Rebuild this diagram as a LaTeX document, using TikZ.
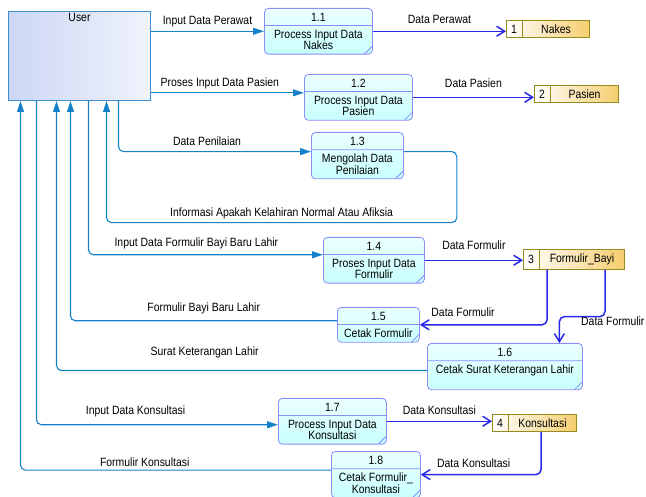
\documentclass[tikz,border=0pt]{standalone}
\usepackage{fontspec}
\setmainfont{Liberation Sans}[FakeStretch=0.87]
\usetikzlibrary{arrows.meta,calc,shapes.multipart}

\definecolor{uflowc}{RGB}{20,130,200}
\definecolor{sflowc}{RGB}{40,40,235}
\definecolor{procline}{RGB}{140,140,250}
\definecolor{procfill}{RGB}{200,255,255}
\definecolor{storeline}{RGB}{150,140,30}
\definecolor{storefill}{RGB}{245,205,110}
\definecolor{userfill}{RGB}{205,215,245}
\definecolor{userline}{RGB}{60,140,210}

\begin{document}
\begin{tikzpicture}[x=1pt,y=-1pt,font=\fontsize{12}{11.5}\selectfont]
\tikzstyle{proc}=[rectangle split,rectangle split parts=2,draw=procline,line width=0.8pt,rounded corners=4pt,top color=procfill!35!white,bottom color=procfill,align=center,anchor=north west,inner xsep=2pt,inner ysep=4pt,path picture={\draw[procline,line width=0.8pt] ([xshift=-8pt]path picture bounding box.south east) -- ([yshift=8pt]path picture bounding box.south east);}]
\tikzstyle{store}=[rectangle split,rectangle split horizontal,rectangle split parts=2,draw=storeline,line width=1pt,left color=white,right color=storefill,anchor=north west,inner xsep=4.6pt,inner ysep=4.2pt,text height=8.6pt,text depth=0pt]
\tikzstyle{uf}=[draw=uflowc,line width=1.1pt,rounded corners=5pt,-{Triangle[length=11pt,width=7pt]}]
\tikzstyle{sf}=[draw=sflowc,line width=1.5pt,rounded corners=5pt,-{Straight Barb[length=8pt,width=10pt]}]
\tikzstyle{lb}=[inner sep=1pt,text height=8.6pt,text depth=2pt]
\tikzstyle{lbl}=[lb,above=3pt]
\useasboundingbox (0,0) rectangle (646,497);

% external entity
\node[draw=userline,line width=1pt,left color=userfill,right color=userfill!30!white,minimum width=142pt,minimum height=89pt,anchor=north west,inner sep=0pt] (user) at (8,11) {};
\node[anchor=north,inner sep=2.5pt] (usrtxt) at (user.north) {User};

% processes
\node[proc,minimum width=108pt] (p11) at (264,8) {1.1\nodepart{two}Process Input Data\\Nakes};
\node[proc,minimum width=108pt] (p12) at (304,74) {1.2\nodepart{two}Process Input Data\\Pasien};
\node[proc,minimum width=92pt] (p13) at (311,132) {1.3\nodepart{two}Mengolah Data\\Penilaian};
\node[proc,minimum width=101pt] (p14) at (323,237) {1.4\nodepart{two}Proses Input Data\\Formulir};
\node[proc,minimum width=82pt] (p15) at (337,307) {1.5\nodepart{two}Cetak Formulir};
\node[proc,minimum width=155pt] (p16) at (427,343) {1.6\nodepart{two}Cetak Surat Keterangan Lahir\\\mbox{}};
\node[proc,minimum width=108pt] (p17) at (278,398) {1.7\nodepart{two}Process Input Data\\Konsultasi};
\node[proc,minimum width=89pt] (p18) at (331,451) {1.8\nodepart{two}Cetak Formulir\_\\Konsultasi};

% data stores
\node[store] (nakes) at (506,20) {1\nodepart{two}\makebox[57.8pt]{Nakes}};
\node[store] (pasien) at (534,85) {2\nodepart{two}\makebox[58.8pt]{Pasien}};
\node[store] (fbayi) at (523,249) {3\nodepart{two}\makebox[75.8pt]{Formulir\_Bayi}};
\node[store] (kons) at (492,414) {4\nodepart{two}\makebox[58.8pt]{Konsultasi}};

% flows with the user
\coordinate (c12) at ([yshift=4.5pt]p12.west);
\draw[uf] (user.east |- p11.west) -- node[lbl]{Input Data Perawat} (p11.west);
\draw[uf] (user.east |- c12) -- node[lbl,pos=0.45]{Proses Input Data Pasien} (c12);
\draw[uf] ([xshift=39pt]user.south) |- node[lbl,pos=0.73]{Data Penilaian} ([yshift=4pt]p13.west);
\draw[uf] ([yshift=4pt]p13.east) -- ++(53,0) -- ++(0,71) -| node[lbl,pos=0.25]{Informasi Apakah Kelahiran Normal Atau Afiksia} ([xshift=27pt]user.south);
\draw[uf] ([xshift=9pt]user.south) |- node[lbl,pos=0.73,above=2pt]{Input Data Formulir Bayi Baru Lahir} ([yshift=5.5pt]p14.west);
\draw[uf] ([yshift=4pt]p15.west) -| node[lbl,pos=0.25,above=3pt]{Formulir Bayi Baru Lahir} ([xshift=-9pt]user.south);
\draw[uf] ([yshift=-4pt]p16.west) -| node[lbl,pos=0.3,above=8pt]{Surat Keterangan Lahir} ([xshift=-23pt]user.south);
\draw[uf] ([xshift=-43pt]user.south) |- node[lbl,pos=0.705,above=4pt]{Input Data Konsultasi} ([yshift=-3.5pt]p17.west);
\draw[uf] ([yshift=4.5pt]p18.west) -| node[lbl,pos=0.3,above=-3pt]{Formulir Konsultasi} ([xshift=-59pt]user.south);

% flows with the data stores
\draw[sf] (p11.east) -- node[lbl,above=1.5pt]{Data Perawat} (p11.east -| nakes.west);
\draw[sf] (p12.east) -- node[lbl,above=3pt]{Data Pasien} (p12.east -| pasien.west);
\draw[sf] (p14.east) -- node[lbl,above=4pt]{Data Formulir} (p14.east -| fbayi.west);
\draw[sf] ([xshift=24pt]fbayi.south west) |- node[lbl,pos=0.83,above=2pt]{Data Formulir} (p15.east);
\draw[sf] ([xshift=82pt]fbayi.south west) -- ++(0,47) -| ([xshift=54.5pt]p16.north);
\node[lb,anchor=west] (lf16) at (580,322) {Data Formulir};
\draw[sf] (p17.east) -- node[lbl]{Data Konsultasi} (p17.east -| kons.west);
\draw[sf] ([xshift=49pt]kons.south west) |- node[lbl,pos=0.78]{Data Konsultasi} (p18.east);
\end{tikzpicture}
\end{document}
